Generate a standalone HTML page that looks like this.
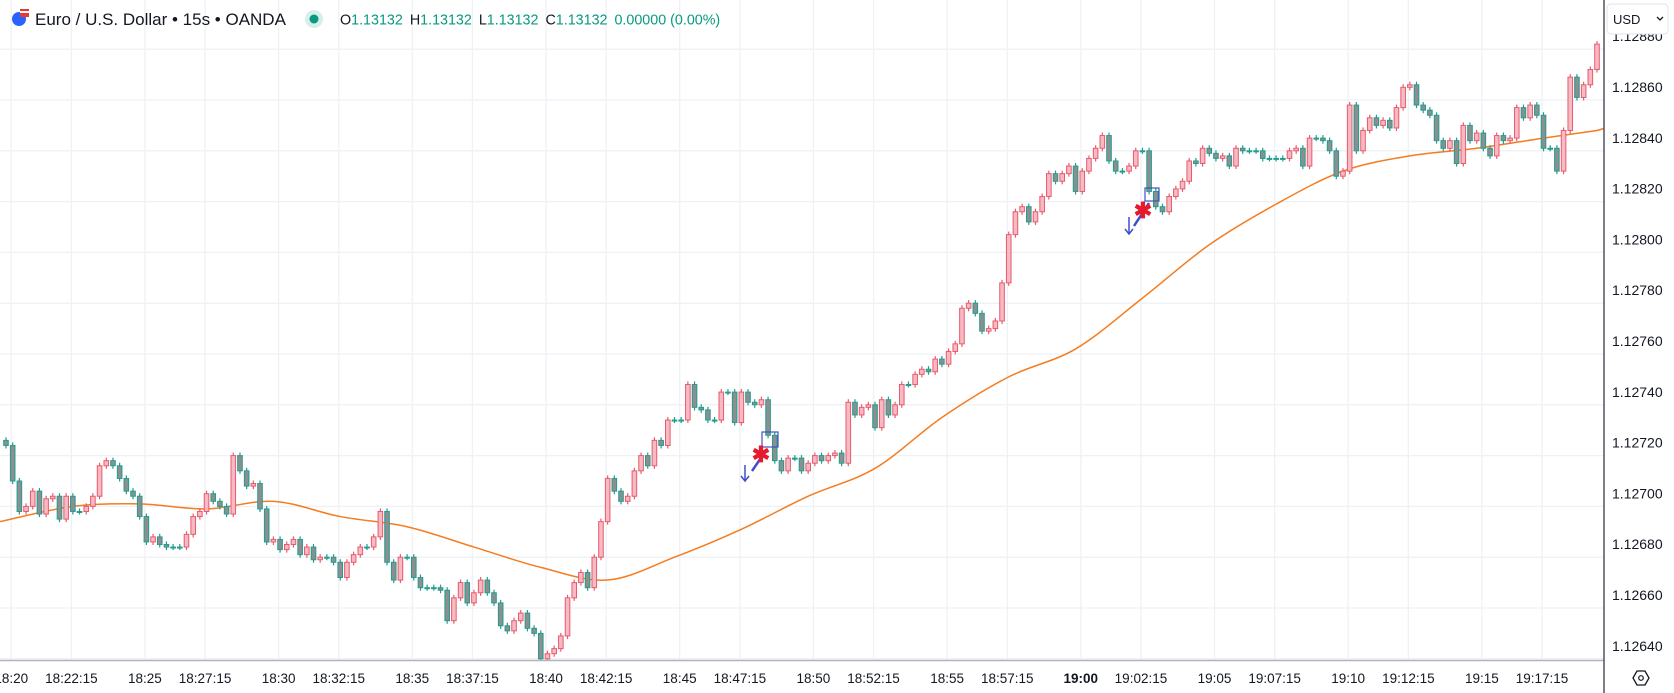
<!DOCTYPE html>
<html><head><meta charset="utf-8">
<style>
html,body{margin:0;padding:0;background:#fff;}
body{width:1674px;height:693px;overflow:hidden;font-family:"Liberation Sans",sans-serif;}
svg{display:block}
</style></head>
<body>
<svg id="chart" width="1674" height="693" viewBox="0 0 1674 693" xmlns="http://www.w3.org/2000/svg" font-family="Liberation Sans, sans-serif">
  <rect x="0" y="0" width="1674" height="693" fill="#ffffff"/>
  <g id="grid"></g>
  <g id="ma"></g>
  <g id="candles"></g>
  <g id="marks">
    <rect x="762" y="432" width="16" height="15" fill="none" stroke="#3f4fc9" stroke-width="1.2"/>
    <line x1="752" y1="471" x2="767" y2="449" stroke="#3f4fc9" stroke-width="2.5"/>
    <line x1="745" y1="465" x2="745" y2="480" stroke="#3f4fc9" stroke-width="1.5"/>
    <polyline points="741,476 745,481 749,476" fill="none" stroke="#3f4fc9" stroke-width="1.5"/>
    <text x="761" y="462" font-size="22" font-weight="bold" fill="#e8192c" text-anchor="middle">✱</text>
    <rect x="1145" y="188" width="14" height="13" fill="none" stroke="#3f4fc9" stroke-width="1.2"/>
    <line x1="1134" y1="226" x2="1149" y2="203" stroke="#3f4fc9" stroke-width="2.5"/>
    <line x1="1129" y1="217" x2="1129" y2="233" stroke="#3f4fc9" stroke-width="1.5"/>
    <polyline points="1125,229 1129,234 1133,229" fill="none" stroke="#3f4fc9" stroke-width="1.5"/>
    <text x="1143" y="218" font-size="22" font-weight="bold" fill="#e8192c" text-anchor="middle">✱</text>
  </g>
  <g>
    <circle cx="19" cy="19" r="7" fill="#2962ff"/>
    <rect x="20" y="9" width="9" height="8" fill="#e53935"/>
    <rect x="20" y="11" width="9" height="2" fill="#fff"/>
    <text x="35" y="25" font-size="17" fill="#131722">Euro / U.S. Dollar • 15s • OANDA</text>
    <circle cx="314" cy="19" r="9" fill="#d7efeb"/>
    <circle cx="314" cy="19" r="4.5" fill="#089981"/>
    <text y="24.5" font-size="14.3"><tspan x="340" fill="#131722">O</tspan><tspan fill="#089981">1.13132</tspan><tspan dx="7" fill="#131722">H</tspan><tspan fill="#089981">1.13132</tspan><tspan dx="7" fill="#131722">L</tspan><tspan fill="#089981">1.13132</tspan><tspan dx="7" fill="#131722">C</tspan><tspan fill="#089981">1.13132</tspan><tspan dx="7" fill="#089981">0.00000 (0.00%)</tspan></text>
  </g>
  <rect x="1604" y="0" width="70" height="693" fill="#ffffff"/>
  <rect x="0" y="661" width="1674" height="32" fill="#ffffff"/>
  <line x1="0" y1="660.5" x2="1604" y2="660.5" stroke="#b2b5be" stroke-width="1.5"/>
  <line x1="1604" y1="0" x2="1604" y2="693" stroke="#50535e" stroke-width="1.5"/>
  <g id="yticks"></g>
  <g id="xticks"></g>
  <rect x="1607" y="4" width="61" height="30" rx="4" fill="#ffffff" stroke="#e0e3eb"/>
  <text x="1613" y="24" font-size="13" fill="#131722">USD</text>
  <polyline points="1657,17 1660,20 1663,17" fill="none" stroke="#131722" stroke-width="1.3"/>
  <g>
    <polygon points="1633,678 1637,671 1645,671 1649,678 1645,685 1637,685" fill="none" stroke="#131722" stroke-width="1.3"/>
    <circle cx="1641" cy="678" r="2.3" fill="none" stroke="#131722" stroke-width="1.2"/>
  </g>
</svg>
<script>
const firstOpen = 1.12726;
const closes = [
1.12724,1.12710,1.12698,1.12700,1.12706,1.12697,1.12703,1.12704,1.12695,1.12704,
1.12698,1.12698,1.12700,1.12704,1.12716,1.12718,1.12716,1.12711,1.12706,1.12704,
1.12696,1.12686,1.12688,1.12685,1.12684,1.12684,1.12684,1.12689,1.12696,1.12698,
1.12705,1.12702,1.12700,1.12697,1.12720,1.12714,1.12708,1.12709,1.12699,1.12686,
1.12687,1.12683,1.12685,1.12687,1.12681,1.12684,1.12679,1.12680,1.12680,1.12678,
1.12672,1.12678,1.12681,1.12684,1.12684,1.12688,1.12698,1.12678,1.12671,1.12680,
1.12680,1.12672,1.12668,1.12668,1.12668,1.12667,1.12655,1.12664,1.12670,1.12662,
1.12666,1.12671,1.12666,1.12662,1.12653,1.12651,1.12655,1.12658,1.12652,1.12650,
1.12640,1.12642,1.12644,1.12649,1.12664,1.12670,1.12674,1.12668,1.12680,1.12694,
1.12711,1.12706,1.12702,1.12704,1.12714,1.12720,1.12716,1.12726,1.12724,1.12734,
1.12734,1.12734,1.12748,1.12739,1.12738,1.12734,1.12734,1.12745,1.12745,1.12733,
1.12745,1.12741,1.12740,1.12742,1.12728,1.12718,1.12714,1.12719,1.12719,1.12714,
1.12717,1.12720,1.12718,1.12720,1.12721,1.12717,1.12741,1.12736,1.12739,1.12740,
1.12731,1.12742,1.12736,1.12740,1.12748,1.12748,1.12752,1.12754,1.12753,1.12758,
1.12756,1.12761,1.12764,1.12778,1.12780,1.12776,1.12769,1.12770,1.12773,1.12788,
1.12807,1.12816,1.12818,1.12812,1.12816,1.12822,1.12831,1.12828,1.12831,1.12834,
1.12824,1.12832,1.12837,1.12841,1.12846,1.12836,1.12832,1.12832,1.12834,1.12840,
1.12840,1.12824,1.12818,1.12816,1.12822,1.12825,1.12828,1.12836,1.12835,1.12841,
1.12839,1.12837,1.12838,1.12834,1.12841,1.12840,1.12840,1.12840,1.12837,1.12837,
1.12837,1.12837,1.12840,1.12841,1.12834,1.12845,1.12845,1.12844,1.12840,1.12830,
1.12832,1.12858,1.12840,1.12848,1.12853,1.12850,1.12852,1.12849,1.12857,1.12865,
1.12866,1.12858,1.12856,1.12854,1.12844,1.12841,1.12844,1.12835,1.12850,1.12844,
1.12847,1.12841,1.12838,1.12846,1.12844,1.12845,1.12857,1.12853,1.12858,1.12854,
1.12841,1.12841,1.12832,1.12848,1.12869,1.12861,1.12866,1.12872,1.12882
];
const maBars = [0,10,20,30,40,50,60,70,80,90,100,110,120,130,140,150,160,170,180,190,200,210,220,230,238];
const maValues = [1.12694,1.12700,1.12701,1.12699,1.12702,1.12696,1.12692,1.12684,1.12676,1.12671,1.12680,1.12691,1.12704,1.12715,1.12735,1.12751,1.12762,1.12782,1.12803,1.12819,1.12832,1.12838,1.12841,1.12845,1.12848];
const priceTicks = [1.12880,1.12860,1.12840,1.12820,1.12800,1.12780,1.12760,1.12740,1.12720,1.12700,1.12680,1.12660,1.12640];
const timeLabels = ["18:20","18:22:15","18:25","18:27:15","18:30","18:32:15","18:35","18:37:15","18:40","18:42:15","18:45","18:47:15","18:50","18:52:15","18:55","18:57:15","19:00","19:02:15","19:05","19:07:15","19:10","19:12:15","19:15","19:17:15"];
const timeMinutes = [-20,-17.75,-15,-12.75,-10,-7.75,-5,-2.75,0,2.25,5,7.25,10,12.25,15,17.25,20,22.25,25,27.25,30,32.25,35,37.25];

const NS = "http://www.w3.org/2000/svg";
const X0 = 6, STEP = (1597 - 6) / 238;
function xBar(i){ return X0 + i * STEP; }
function xTime(m){ return 546 + m * STEP * 4; }
function yPrice(p){ return 100 + (1.12860 - p) * 254000; }
function mk(tag, attrs, parent){ const e = document.createElementNS(NS, tag); for (const k in attrs) e.setAttribute(k, attrs[k]); parent.appendChild(e); return e; }

const grid = document.getElementById('grid');
priceTicks.forEach(p => {
  const l = mk('line', {x1:0, x2:1604, y1:yPrice(p), y2:yPrice(p), stroke:'#eef1f6', 'stroke-width':1.3}, grid);
  
  
});
timeMinutes.forEach(m => {
  const l = mk('line', {x1:xTime(m), x2:xTime(m), y1:0, y2:660, stroke:'#eef1f6', 'stroke-width':1.3}, grid);
  
  
});

const yt = document.getElementById('yticks');
priceTicks.forEach(p => {
  const t = mk('text', {x:1612, y:yPrice(p) - 13 + 5, 'font-size':14, fill:'#131722'}, yt);
  t.textContent = p.toFixed(5);
  
  
});
const xt = document.getElementById('xticks');
timeLabels.forEach((s, k) => {
  const t = mk('text', {x:xTime(timeMinutes[k]), y:683, 'font-size':13.5, fill:'#131722', 'text-anchor':'middle'}, xt);
  if (s === "19:00") t.setAttribute('font-weight', 'bold');
  t.textContent = s;
  
  
});

const pts = maBars.map((b, k) => [xBar(b), yPrice(maValues[k])]);
pts[0] = [0, pts[0][1]];
let d = 'M' + pts[0][0] + ',' + pts[0][1];
for (let k = 0; k < pts.length - 1; k++) {
  const p0 = pts[Math.max(0, k - 1)], p1 = pts[k], p2 = pts[k + 1], p3 = pts[Math.min(pts.length - 1, k + 2)];
  const c1 = [p1[0] + (p2[0] - p0[0]) / 6, p1[1] + (p2[1] - p0[1]) / 6];
  const c2 = [p2[0] - (p3[0] - p1[0]) / 6, p2[1] - (p3[1] - p1[1]) / 6];
  d += ' C' + c1.join(',') + ' ' + c2.join(',') + ' ' + p2.join(',');
}
const last = pts[pts.length - 1];
d += ' L1604,' + (last[1] - 2);
const maPath = mk('path', {d:d, fill:'none', stroke:'#f57c1f', 'stroke-width':1.5}, document.getElementById('ma'));



const cg = document.getElementById('candles');
const WICK = 0.000012;
closes.forEach((c, i) => {
  const o = i === 0 ? firstOpen : closes[i - 1];
  const up = c > o;
  const hi = Math.max(o, c) + WICK, lo = Math.min(o, c) - WICK;
  const x = xBar(i);
  const stroke = up ? '#e85b6c' : '#1f9e8f';
  const fill = up ? '#f7b9c4' : '#8c8f8f';
  const w = mk('line', {x1:x, x2:x, y1:yPrice(hi), y2:yPrice(lo), stroke:stroke, 'stroke-width':1.2}, cg);
  
  
  const top = yPrice(Math.max(o, c)), bot = yPrice(Math.min(o, c));
  const b = mk('rect', {x:x - 2.3, y:top, width:4.6, height:Math.max(1, bot - top), fill:fill, stroke:stroke, 'stroke-width':1}, cg);
  
  
});
</script>
</body></html>
